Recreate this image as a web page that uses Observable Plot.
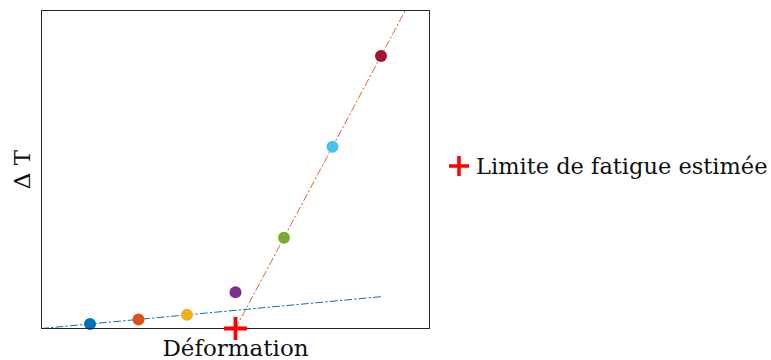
<!DOCTYPE html>
<html>
<head>
<meta charset="utf-8">
<script src="https://cdn.jsdelivr.net/npm/d3@7"></script>
<script src="https://cdn.jsdelivr.net/npm/@observablehq/plot@0.6"></script>
<style>
  html, body { margin: 0; padding: 0; background: #fff; }
  #wrap { display: flex; flex-direction: row; align-items: flex-start; width: 771px; height: 360px; }
  #legend { position: relative; margin-top: 153px; margin-left: 8px; display: flex; align-items: center;
    font-family: "DejaVu Serif", serif; font-size: 22.5px; color: #111; white-space: nowrap; }
  #legend svg { margin-right: 6px; }
</style>
</head>
<body>
<div id="wrap"><div id="chart"></div><div id="legend"></div></div>
<script>
// Data
const strain = [1, 2, 3, 4, 5, 6, 7];
const deltaT = [0.5, 1, 1.5, 4, 10, 20, 30];
const pointColors = ["#0072BD", "#D95319", "#EDB120", "#7E2F8E", "#77AC30", "#4DBEEE", "#A2142F"];
const lowFitX = [0, 7];
const lowFitY = [0, 3.5];
const highFitX = [4, 7.5];
const highFitY = [0, 35];
const limitX = [4];
const limitY = [0];
const xLabel = "Déformation";
const yLabel = "Δ T";
const legendLabel = "Limite de fatigue estimée";

const points = strain.map((x, i) => ({x, y: deltaT[i], c: pointColors[i]}));
const lowFit = lowFitX.map((x, i) => ({x, y: lowFitY[i]}));
const highFit = highFitX.map((x, i) => ({x, y: highFitY[i]}));
const limit = limitX.map((x, i) => ({x, y: limitY[i]}));

const font = "DejaVu Serif, serif";

const chart = Plot.plot({
  width: 440,
  height: 360,
  marginLeft: 41,
  marginRight: 11,
  marginTop: 10,
  marginBottom: 32,
  style: {fontFamily: font, background: "white"},
  x: {domain: [0, 8], axis: null},
  y: {domain: [0, 35], axis: null},
  marks: [
    Plot.line(lowFit, {x: "x", y: "y", stroke: "#0072BD", strokeWidth: 1, strokeDasharray: "7,3,1.5,3"}),
    Plot.line(highFit, {x: "x", y: "y", stroke: "#D95319", strokeWidth: 0.9, strokeDasharray: "7,3,1.5,3"}),
    Plot.dot(points, {x: "x", y: "y", r: 6, fill: "c", stroke: "none"}),
    Plot.frame({stroke: "#262626", strokeWidth: 1}),
    Plot.dot(limit, {x: "x", y: "y", symbol: "plus", r: 7.5, stroke: "#FF0000", strokeWidth: 3.8}),
    Plot.text([xLabel], {frameAnchor: "bottom", dy: 20, text: d => d, fontSize: 23, fill: "#111", textAnchor: "middle", lineAnchor: "middle", fontFamily: font}),
    Plot.text([yLabel], {frameAnchor: "left", dx: -19, rotate: -90, text: d => d, fontSize: 23, fill: "#111", textAnchor: "middle", lineAnchor: "middle", fontFamily: font})
  ]
});
document.getElementById("chart").appendChild(chart);

// Legend
const leg = document.getElementById("legend");
const ns = "http://www.w3.org/2000/svg";
const s = document.createElementNS(ns, "svg");
s.setAttribute("width", 22); s.setAttribute("height", 22);
const p = document.createElementNS(ns, "path");
p.setAttribute("d", "M1,11H21M11,1V21");
p.setAttribute("stroke", "#FF0000"); p.setAttribute("stroke-width", "3.5"); p.setAttribute("fill", "none");
s.appendChild(p);
leg.appendChild(s);
const t = document.createElement("span");
t.textContent = legendLabel;
leg.appendChild(t);
</script>
</body>
</html>
